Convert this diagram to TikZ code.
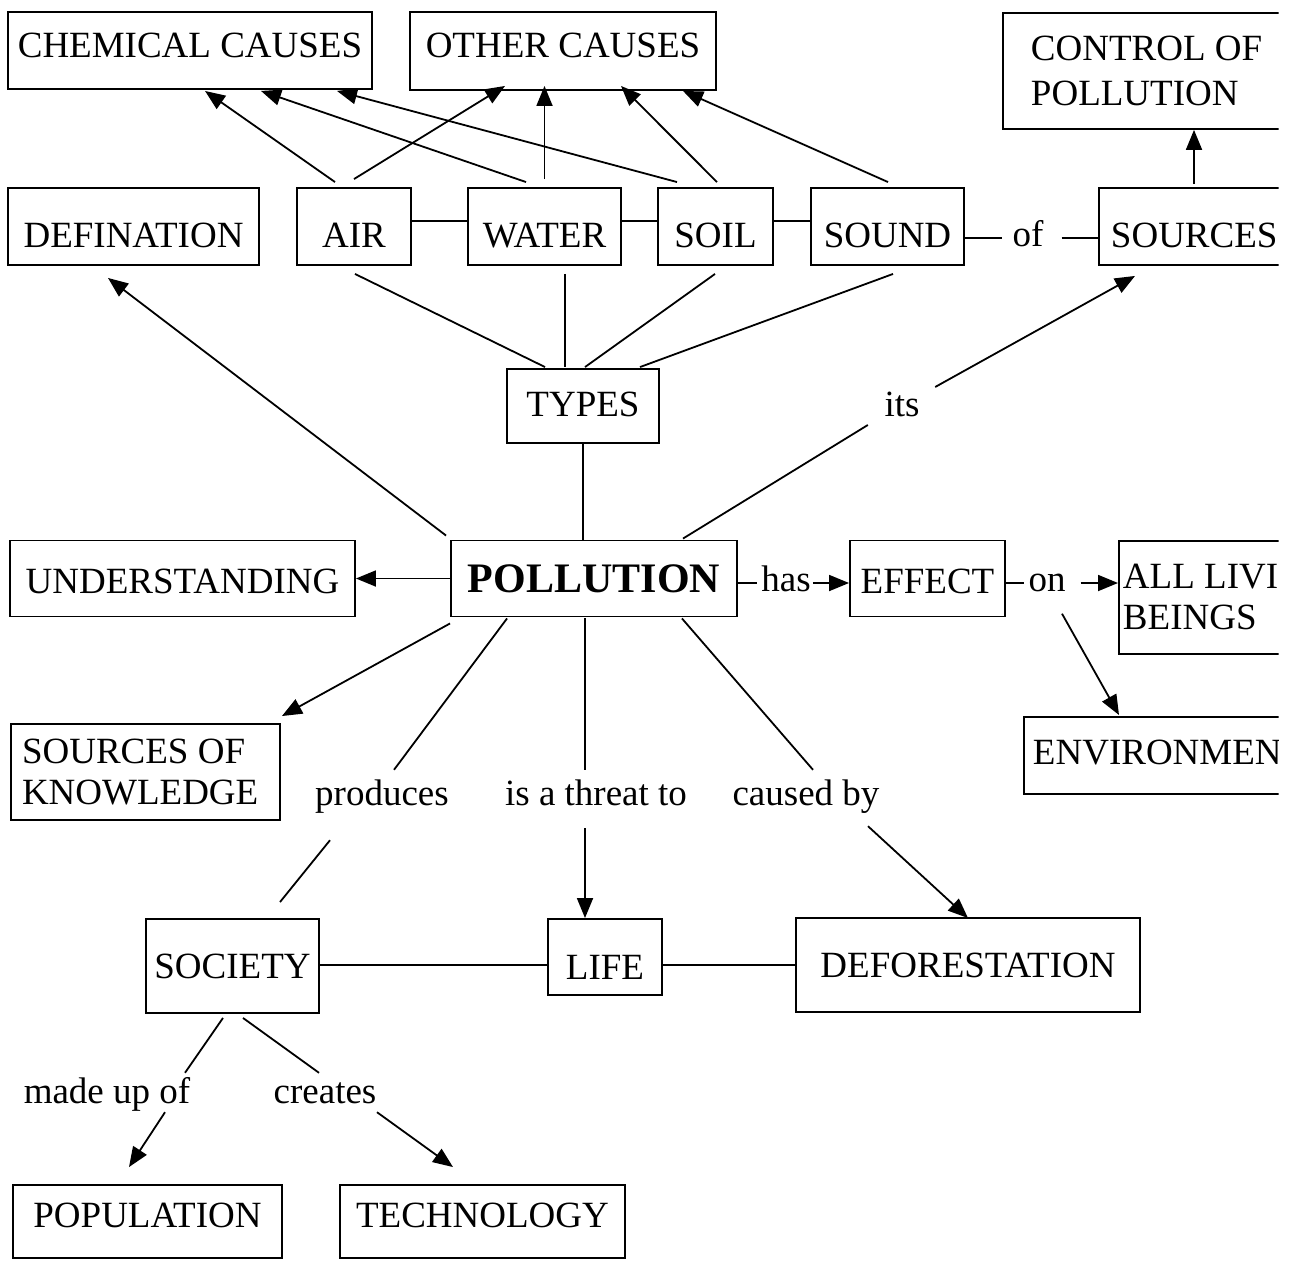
\documentclass[tikz,border=0pt]{standalone}
\usepackage{fontspec}
\setmainfont{Liberation Serif}
\usetikzlibrary{arrows.meta,calc}
\tikzset{
  box/.style={draw, line width=1.9pt, rectangle, inner sep=0pt, font=\fontsize{37}{44}\selectfont},
  tv/.style={text height=#1, text depth=0pt},
  lbl/.style={inner sep=0pt, text height=25pt, text depth=9pt, anchor=base, font=\fontsize{37}{44}\selectfont},
  conn/.style={line width=1.8pt},
  arr/.style={conn, -{Triangle[length=20pt,width=16pt]}},
}
\begin{document}
\begin{tikzpicture}[x=1pt,y=-1pt]
\useasboundingbox[fill=white] (0,0) rectangle (1292,1260);
\begin{scope}
\clip (0,0) rectangle (1278.5,1260);
% boxes
\node[box, tv=15pt, minimum width=364pt, minimum height=77pt] (chem) at (190,50.5) {CHEMICAL CAUSES};
\node[box, tv=14pt, minimum width=306pt, minimum height=78pt] (other) at (563,51) {OTHER CAUSES};
\node[box, anchor=north west, minimum width=400pt, minimum height=116pt, text width=344pt, align=flush left, font=\fontsize{37}{45}\selectfont] (control) at (1002,12) {CONTROL OF\\POLLUTION};
\node[box, tv=41pt, minimum width=251pt, minimum height=77pt] (defin) at (133.5,226.5) {DEFINATION};
\node[box, tv=41pt, minimum width=114pt, minimum height=77pt] (air) at (354,226.5) {AIR};
\node[box, tv=41pt, minimum width=153pt, minimum height=77pt] (water) at (544.5,226.5) {WATER};
\node[box, tv=41pt, minimum width=115pt, minimum height=77pt] (soil) at (715.5,226.5) {SOIL};
\node[box, tv=41pt, minimum width=153pt, minimum height=77pt] (sound) at (887.5,226.5) {SOUND};
\node[box, tv=41pt, anchor=west, minimum width=300pt, minimum height=77pt, text width=276pt, align=flush left] (sources) at (1098,226.5) {SOURCES};
\node[box, tv=20pt, minimum width=152pt, minimum height=74pt] (types) at (583,406) {TYPES};
\node[box, tv=29pt, minimum width=345pt, minimum height=76pt] (under) at (182.5,578.5) {UNDERSTANDING};
\node[box, minimum width=286pt, minimum height=76pt, font=\fontsize{42}{44}\selectfont\bfseries] (pol) at (594,578.5) {POLLUTION};
\node[box, tv=29pt, minimum width=155pt, minimum height=76pt] (effect) at (927.5,578.5) {EFFECT};
\node[box, anchor=north west, minimum width=300pt, minimum height=113pt, text width=292pt, align=flush left, font=\fontsize{37}{41}\selectfont] (alllivi) at (1118,540) {ALL LIVI\\BEINGS};
\node[box, tv=19pt, anchor=north west, minimum width=400pt, minimum height=77pt, text width=382pt, align=flush left] (environ) at (1023,716) {ENVIRONMEN};
\node[box, minimum width=269pt, minimum height=96pt, text width=247pt, align=flush left, font=\fontsize{37}{41}\selectfont] (know) at (145.5,772) {SOURCES OF\\KNOWLEDGE};
\node[box, minimum width=173pt, minimum height=94pt] (society) at (232.5,966) {SOCIETY};
\node[box, tv=44pt, minimum width=114pt, minimum height=76pt] (life) at (605,957) {LIFE};
\node[box, minimum width=344pt, minimum height=94pt] (defo) at (968,965) {DEFORESTATION};
\node[box, tv=11pt, minimum width=269pt, minimum height=73pt] (pop) at (147.5,1221.5) {POPULATION};
\node[box, tv=11pt, minimum width=285pt, minimum height=73pt] (tech) at (482.5,1221.5) {TECHNOLOGY};
% labels
\node[lbl] (of) at (1028,246) {of};
\node[lbl] (its) at (902,416) {its};
\node[lbl] (has) at (786,591) {has};
\node[lbl] (on) at (1047,591) {on};
\node[lbl] (produces) at (382,805) {produces};
\node[lbl] (threat) at (596,805) {is a threat to};
\node[lbl] (causedby) at (806,805) {caused by};
\node[lbl] (madeup) at (107,1103) {made up of};
\node[lbl] (creates) at (325,1103) {creates};
% top arrows
\draw[arr] ($(air.north)+(-19,-5)$) -- ($(chem.south)+(15,1)$);
\draw[arr] ($(air.north)+(0,-8)$) -- ($(other.south)+(-58,-5)$);
\draw[arr] ($(water.north)+(-18.5,-5)$) -- ($(chem.south)+(71,1)$);
\draw[arr] ($(water.north)+(0,-8)$) -- ($(water.north |- other.south)+(0,-5)$);
\draw[arr] ($(soil.north)+(-38.5,-5)$) -- ($(chem.south)+(147,1)$);
\draw[arr] ($(soil.north)+(1.5,-5)$) -- ($(other.south)+(58,-5)$);
\draw[arr] ($(sound.north)+(0.5,-5)$) -- ($(other.south)+(120,0)$);
\draw[arr] ($(sources.north west)+(96,-3)$) -- ($(control.south west)+(192,0)$);
% row links
\draw[conn] (air.east |- 0,221) -- (water.west |- 0,221);
\draw[conn] (water.east |- 0,221) -- (soil.west |- 0,221);
\draw[conn] (soil.east |- 0,221) -- (sound.west |- 0,221);
\draw[conn] (sound.east |- of.west) -- ($(of.west)+(-10,0)$);
\draw[conn] ($(of.east)+(18,0)$) -- (sources.west |- of.east);
% types
\draw[conn] ($(air.south)+(1,8)$) -- ($(types.north)+(-38,-1)$);
\draw[conn] ($(water.south)+(20.5,8)$) -- ($(types.north)+(-18,-1)$);
\draw[conn] ($(soil.south)+(-0.5,8)$) -- ($(types.north)+(2,-1)$);
\draw[conn] ($(sound.south)+(5.5,8)$) -- ($(types.north)+(57,-1)$);
\draw[conn] (types.south) -- (types.south |- pol.north);
% pollution
\draw[arr] ($(pol.north west)+(-4,-4)$) -- ($(defin.south)+(-25.5,12)$);
\draw[conn] ($(pol.north)+(89,-1)$) -- ($(its.west)+(-16.5,17)$);
\draw[arr] ($(its.east)+(15.5,-21)$) -- ($(sources.south west)+(37,10)$);
\draw[arr] (pol.west) -- (under.east);
\draw[conn] (pol.east |- has.west) -- ($(has.west)+(-4,0)$);
\draw[arr] ($(has.east)+(2,0)$) -- (effect.west |- has.east);
\draw[conn] (effect.east |- on.west) -- ($(on.west)+(-4,0)$);
\draw[arr] ($(on.east)+(15,0)$) -- (alllivi.west |- on.east);
\draw[arr] ($(on.south)+(15,13.5)$) -- ($(environ.north west)+(96,-1)$);
\draw[arr] ($(pol.south west)+(0,6)$) -- ($(know.north east)+(1,-7)$);
\draw[conn] ($(pol.south west)+(57,1)$) -- ($(produces.north)+(12,-10)$);
\draw[conn] ($(produces.south)+(-52,26)$) -- ($(society.north)+(47.5,-16)$);
\draw[conn] ($(pol.south)+(-9,1)$) -- ($(threat.north)+(-11,-10)$);
\draw[arr] ($(threat.south)+(-11,14)$) -- ($(life.north)+(-20,0)$);
\draw[conn] ($(pol.south east)+(-56,1)$) -- ($(causedby.north)+(7,-10)$);
\draw[arr] ($(causedby.south)+(62,12)$) -- ($(defo.north)+(0,1)$);
% bottom row
\draw[conn] (society.east |- 0,965) -- (life.west |- 0,965);
\draw[conn] (life.east |- 0,965) -- (defo.west |- 0,965);
\draw[conn] ($(society.south)+(-9.5,4)$) -- ($(madeup.north)+(78,-5)$);
\draw[arr] ($(madeup.south)+(58,0)$) -- ($(pop.north)+(-18.5,-17)$);
\draw[conn] ($(society.south)+(10.5,4)$) -- ($(creates.north)+(-6,-5)$);
\draw[arr] ($(creates.south)+(52,0)$) -- ($(tech.north)+(-29.5,-17)$);
\end{scope}
\end{tikzpicture}
\end{document}
